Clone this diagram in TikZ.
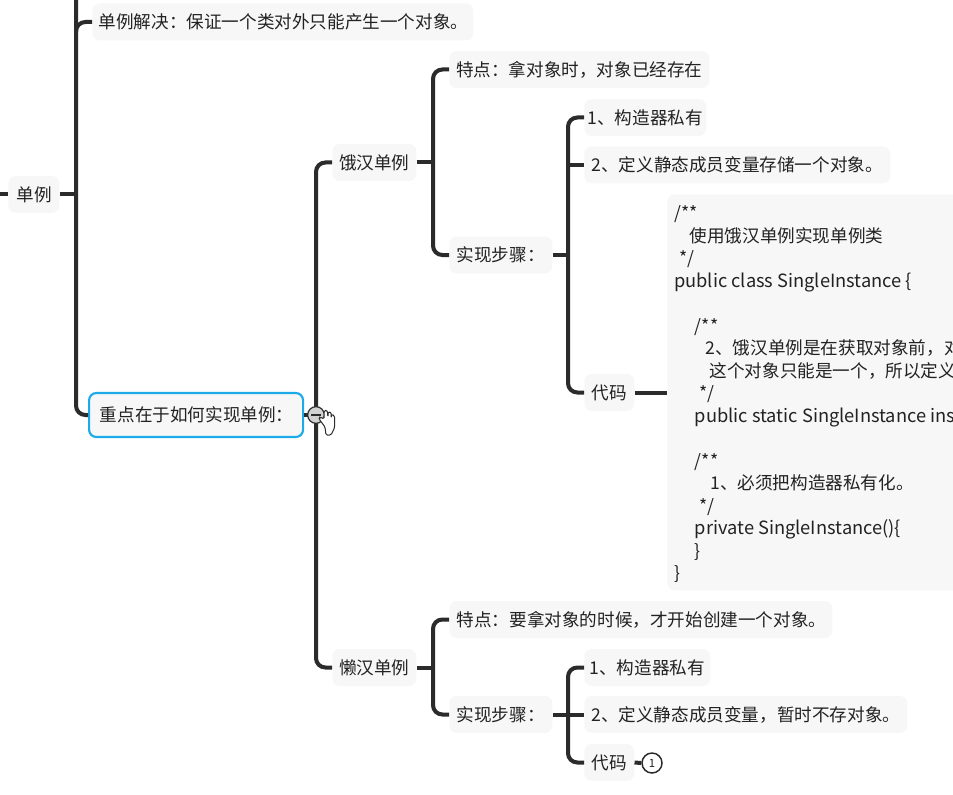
\documentclass[tikz,border=0pt]{standalone}
\usepackage{fontspec}
\setmainfont{Noto Sans CJK SC}
\definecolor{ink}{HTML}{2B2B2B}
\definecolor{txt}{HTML}{222222}
\definecolor{boxbg}{HTML}{F7F7F7}
\definecolor{sel}{HTML}{1CAAE8}
\newcommand{\latn}{\fontsize{13.7pt}{16.875pt}\selectfont}
\tikzset{
  topic/.style={rounded corners=5.5pt,fill=boxbg,text=txt,inner sep=0pt,font=\fontsize{13.2pt}{16pt}\selectfont,text height=13pt,text depth=3pt,minimum height=27.75pt,anchor=west,align=left},
  conn/.style={draw=ink,line width=3pt,rounded corners=7pt,line cap=butt},
}
\begin{document}
\begin{tikzpicture}[x=0.75pt,y=-0.75pt]
\useasboundingbox (0,0) rectangle (953,795);
\clip (0,0) rectangle (953,795);
% nodes
\node[topic,minimum width=285.75pt] (jiejue) at (92,22) {\hspace*{1pt}单例解决：保证一个类对外只能产生一个对象。};
\node[topic,minimum width=38.25pt] (danli) at (8,194.5) {\hspace*{1pt}单例};
\node[topic,minimum width=160.5pt,minimum height=33pt,draw=sel,line width=1.6pt] (zhongdian) at (88,415) {重点在于如何实现单例：\hspace*{-1pt}};
\node[topic,minimum width=63pt] (ehan) at (332,162.5) {饿汉单例};
\node[topic,minimum width=195pt] (etedian) at (449,69.5) {特点：拿对象时，对象已经存在};
\node[topic,minimum width=77.25pt] (ebuzhou) at (449,255) {实现步骤：};
\node[topic,minimum width=91.5pt] (eone) at (584,117.5) {1、构造器私有};
\node[topic,minimum width=229.5pt] (etwo) at (584,165) {2、定义静态成员变量存储一个对象。};
\node[topic,minimum width=37.5pt] (edaima) at (584,392.5) {代码};
\node[rounded corners=5.5pt,fill=boxbg,text=txt,inner sep=0pt,minimum width=240pt,minimum height=297pt,anchor=north west] (code) at (667,194) {};
\node[anchor=north west,inner sep=0pt,text=txt,align=left,font=\fontsize{13.2pt}{16.875pt}\selectfont] (codetext) at (674,205.5) {%
/**\\
\hspace*{11.5pt}使用饿汉单例实现单例类\\
\hspace*{4pt}*/\\
{\latn public class SingleInstance \{}\\
\strut\\
\hspace*{15.5pt}/**\\
\hspace*{23.5pt}2、饿汉单例是在获取对象前，对\\
\hspace*{26.5pt}这个对象只能是一个，所以定义\\
\hspace*{19pt}*/\\
\hspace*{15.5pt}{\latn public static SingleInstance inst}\\
\strut\\
\hspace*{15.5pt}/**\\
\hspace*{27pt}1、必须把构造器私有化。\\
\hspace*{19pt}*/\\
\hspace*{15.5pt}{\latn private SingleInstance()\{}\\
\hspace*{15.5pt}\}\\
\}};
\node[topic,minimum width=63pt] (lan) at (332,667.5) {懒汉单例};
\node[topic,minimum width=287.25pt] (ltedian) at (449,619.5) {\hspace*{1pt}特点：要拿对象的时候，才开始创建一个对象。};
\node[topic,minimum width=77.25pt] (lbuzhou) at (449,714.5) {实现步骤：};
\node[topic,minimum width=94.5pt] (lone) at (584,667.5) {1、构造器私有};
\node[topic,minimum width=242.25pt] (ltwo) at (584,714.5) {2、定义静态成员变量，暂时不存对象。};
\node[topic,minimum width=37.5pt] (ldaima) at (584,762.5) {代码};
\node[circle,draw=ink,fill=white,line width=1.1pt,minimum size=15pt,inner sep=0pt,text=txt,font=\fontsize{8.5pt}{10pt}\selectfont] (count) at (652,763) {1};
% coordinates
\coordinate (top) at (76,-10);
\coordinate (leftedge) at (-5,194.5);
\coordinate (t1) at (76,194.5);
\coordinate (t2) at (316,415);
\coordinate (t3) at (433,162.5);
\coordinate (t4) at (568,255);
\coordinate (t5) at (433,667.5);
\coordinate (t6) at (568,714.5);
% connectors
\draw[conn] (leftedge) -- (danli.west);
\draw[conn] (danli.east) -- (t1);
\draw[conn] (top) |- (zhongdian.west);
\draw[conn] (t1 |- jiejue.west) ++(0,10) |- (jiejue.west);
\draw[conn] (zhongdian.east) -- (t2);
\draw[conn] (ehan.west) -| (t2) |- (lan.west);
\draw[conn] (etedian.west) -| (t3) |- (ebuzhou.west);
\draw[conn] (ehan.east) -- (t3);
\draw[conn] (eone.west) -| (t4) |- (edaima.west);
\draw[conn] (etwo.west) -- (t4 |- etwo.west);
\draw[conn] (ebuzhou.east) -- (t4);
\draw[conn] (edaima.east) -- (code.west |- edaima.east);
\draw[conn] (ltedian.west) -| (t5) |- (lbuzhou.west);
\draw[conn] (lan.east) -- (t5);
\draw[conn] (lone.west) -| (t6) |- (ldaima.west);
\draw[conn] (lbuzhou.east) -- (ltwo.west);
\draw[conn] (ldaima.east) -- (count.west);
% collapse button and pointer
\node[circle,draw=ink,fill=gray!35,line width=0.9pt,minimum size=12.5pt,inner sep=0pt] (collapse) at (316,415) {};
\draw[ink,line width=1pt] ([xshift=-3.5pt]collapse.center) -- ([xshift=3.5pt]collapse.center);
\draw[ink,fill=white,line width=0.75pt,rounded corners=1pt]
 (325,427) -- (319,419) -- (320,417) -- (324,419) -- (324,411) -- (327,410) -- (328,417) -- (328,412) -- (331,412) -- (331,418) -- (332,414) -- (334.5,416) -- (334.5,428) -- (331,435) -- (326,435) -- cycle;
\end{tikzpicture}
\end{document}
